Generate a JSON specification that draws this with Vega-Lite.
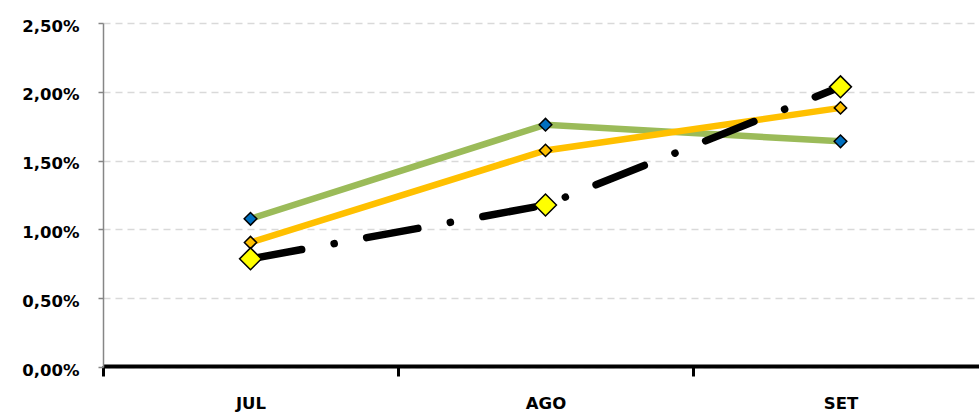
{
  "$schema": "https://vega.github.io/schema/vega-lite/v6.json",
  "autosize": {"type": "none"},
  "width": 885,
  "height": 344,
  "padding": {"left": 103, "top": 23, "right": 0, "bottom": 46},
  "background": "white",
  "config": {"view": {"stroke": null}},
  "data": {
    "values": [
      {"mes": "JUL", "serie": "A", "valor": 0.01077},
      {"mes": "AGO", "serie": "A", "valor": 0.01761},
      {"mes": "SET", "serie": "A", "valor": 0.0164},
      {"mes": "JUL", "serie": "B", "valor": 0.00905},
      {"mes": "AGO", "serie": "B", "valor": 0.01574},
      {"mes": "SET", "serie": "B", "valor": 0.01883},
      {"mes": "JUL", "serie": "C", "valor": 0.00786},
      {"mes": "AGO", "serie": "C", "valor": 0.01177},
      {"mes": "SET", "serie": "C", "valor": 0.02036}
    ]
  },
  "encoding": {
    "x": {
      "field": "mes", "type": "nominal", "sort": ["JUL", "AGO", "SET"],
      "scale": {"paddingInner": 0, "paddingOuter": 0},
      "axis": {
        "title": null, "labelAngle": 0, "tickBand": "extent",
        "domainColor": "#000000", "domainWidth": 4, "offset": -1,
        "tickColor": "#000000", "tickWidth": 3, "tickSize": 10,
        "labelFont": "DejaVu Sans", "labelFontWeight": "bold", "labelFontSize": 16.5,
        "labelColor": "#000000", "labelPadding": 19, "grid": false
      }
    },
    "y": {
      "field": "valor", "type": "quantitative",
      "scale": {"domain": [0, 0.025], "nice": false},
      "axis": {
        "title": null, "values": [0, 0.005, 0.01, 0.015, 0.02, 0.025],
        "format": ".2%", "formatType": "number",
        "labelExpr": "replace(datum.label, '.', ',')",
        "domainColor": "#868686", "domainWidth": 1.5,
        "tickColor": "#868686", "tickWidth": 1.5, "tickSize": 5,
        "labelFont": "DejaVu Sans", "labelFontWeight": "bold", "labelFontSize": 16.5,
        "labelColor": "#000000", "labelPadding": 19, "labelOffset": 3,
        "grid": true, "gridColor": "#D9D9D9", "gridDash": [7, 5], "gridWidth": 1.5
      }
    }
  },
  "layer": [
    {
      "transform": [{"filter": "datum.serie == 'A'"}],
      "mark": {"type": "line", "color": "#9BBB59", "strokeWidth": 6.5}
    },
    {
      "transform": [{"filter": "datum.serie == 'B'"}],
      "mark": {"type": "line", "color": "#FFC000", "strokeWidth": 6.5}
    },
    {
      "transform": [{"filter": "datum.serie == 'C'"}],
      "mark": {"type": "line", "color": "#000000", "strokeWidth": 7.5, "strokeCap": "round", "strokeDash": [52, 33, 0.1, 33]}
    },
    {
      "transform": [{"filter": "datum.serie == 'A'"}],
      "mark": {"type": "point", "shape": "diamond", "filled": true, "fill": "#0070C0", "stroke": "#000000", "strokeWidth": 1.5, "size": 160, "opacity": 1}
    },
    {
      "transform": [{"filter": "datum.serie == 'B'"}],
      "mark": {"type": "point", "shape": "diamond", "filled": true, "fill": "#FFC000", "stroke": "#000000", "strokeWidth": 1.5, "size": 150, "opacity": 1}
    },
    {
      "transform": [{"filter": "datum.serie == 'C'"}],
      "mark": {"type": "point", "shape": "diamond", "filled": true, "fill": "#FFFF00", "stroke": "#000000", "strokeWidth": 1.5, "size": 480, "opacity": 1}
    }
  ]
}
